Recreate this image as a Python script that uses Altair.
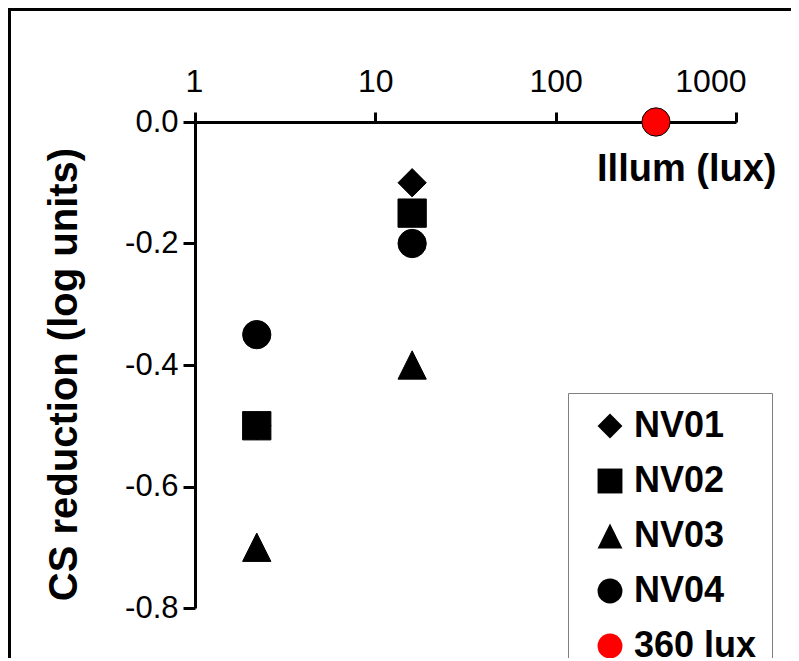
import altair as alt
import pandas as pd

# ---- data ----
series_names = ["NV01", "NV02", "NV03", "NV04", "360 lux"]
illum_nv = [2.2, 16]          # lux
nv01 = [-0.50, -0.10]
nv02 = [-0.50, -0.15]
nv03 = [-0.70, -0.40]
nv04 = [-0.35, -0.20]
ref_illum = [360]
ref_cs = [0.0]

x_ticks = [1, 10, 100, 1000]
y_ticks = [-0.8, -0.6, -0.4, -0.2, 0.0]

rows = []
for name, vals in zip(series_names[:4], [nv01, nv02, nv03, nv04]):
    for xv, yv in zip(illum_nv, vals):
        rows.append({"illum": xv, "cs": yv, "series": name})
for xv, yv in zip(ref_illum, ref_cs):
    rows.append({"illum": xv, "cs": yv, "series": "360 lux"})
df = pd.DataFrame(rows)

TICK_FONT = "Liberation Sans, Arial"
BOLD_FONT = "Liberation Sans, Arial"

W, H = 541, 486

tri = "M0,-1L1,1L-1,1Z"

legend_opts = dict(
    title=None, orient="none", legendX=373, legendY=271,
    strokeColor="#808080", fillColor="white", padding=15,
    labelFont=BOLD_FONT, labelFontSize=36, labelFontWeight="bold", labelColor="black",
    symbolSize=620, symbolStrokeColor="black", symbolStrokeWidth=1,
    symbolOffset=9, labelOffset=6, rowPadding=19,
)

points = alt.Chart(df).mark_point(filled=True, opacity=1, size=800, strokeWidth=1).encode(
    x=alt.X(
        "illum:Q",
        scale=alt.Scale(type="log", domain=[1, 1000], nice=False),
        axis=alt.Axis(
            orient="top", values=x_ticks, format="d", grid=False,
            labelFlush=True, labelFlushOffset=10,
            domainColor="black", domainWidth=3, tickColor="black", tickWidth=3, tickSize=10,
            labelFont=TICK_FONT, labelFontSize=32, labelColor="black", labelPadding=14,
            title="Illum (lux)", titleFont=BOLD_FONT, titleFontSize=38, titleFontWeight="bold",
            titleColor="black", titleAlign="right", titleBaseline="middle",
            titleX=581, titleY=47, titleAngle=0,
        ),
    ),
    y=alt.Y(
        "cs:Q",
        scale=alt.Scale(domain=[-0.8, 0.0], nice=False, zero=False),
        axis=alt.Axis(
            orient="left", values=y_ticks, grid=False, labelFlush=False,
            labelExpr="(datum.value < -0.0001 ? '-' : '') + format(abs(datum.value), '.1f')",
            domainColor="black", domainWidth=3, tickColor="black", tickWidth=3, tickSize=12,
            labelFont=TICK_FONT, labelFontSize=31, labelColor="black", labelPadding=5,
            title="CS reduction (log units)", titleFont=BOLD_FONT, titleFontSize=40,
            titleFontWeight="bold", titleColor="black", titleAngle=270,
            titleAlign="center", titleBaseline="middle", titleX=-131, titleY=252,
        ),
    ),
    shape=alt.Shape(
        "series:N",
        scale=alt.Scale(domain=series_names, range=["diamond", "square", tri, "circle", "circle"]),
        legend=alt.Legend(**legend_opts),
    ),
    fill=alt.Fill(
        "series:N",
        scale=alt.Scale(domain=series_names, range=["black", "black", "black", "black", "red"]),
        legend=alt.Legend(**legend_opts),
    ),
    stroke=alt.value("black"),
    order=alt.Order("series:N"),
)

frame_df = pd.DataFrame({"k": [0]})
top_line = alt.Chart(frame_df).mark_rule(color="black", strokeWidth=3).encode(
    x=alt.value(-188), x2=alt.value(600), y=alt.value(-112.5)
)
left_line = alt.Chart(frame_df).mark_rule(color="black", strokeWidth=3).encode(
    x=alt.value(-185.5), y=alt.value(-114), y2=alt.value(560)
)

chart = alt.layer(top_line, left_line, points).properties(
    width=W, height=H,
    background="white",
    autosize=alt.AutoSizeParams(type="none"),
    padding={"left": 187, "top": 114, "right": 55, "bottom": 50},
).configure_view(stroke=None)

chart.save("out.html", embed_options={"renderer": "svg", "actions": False})
